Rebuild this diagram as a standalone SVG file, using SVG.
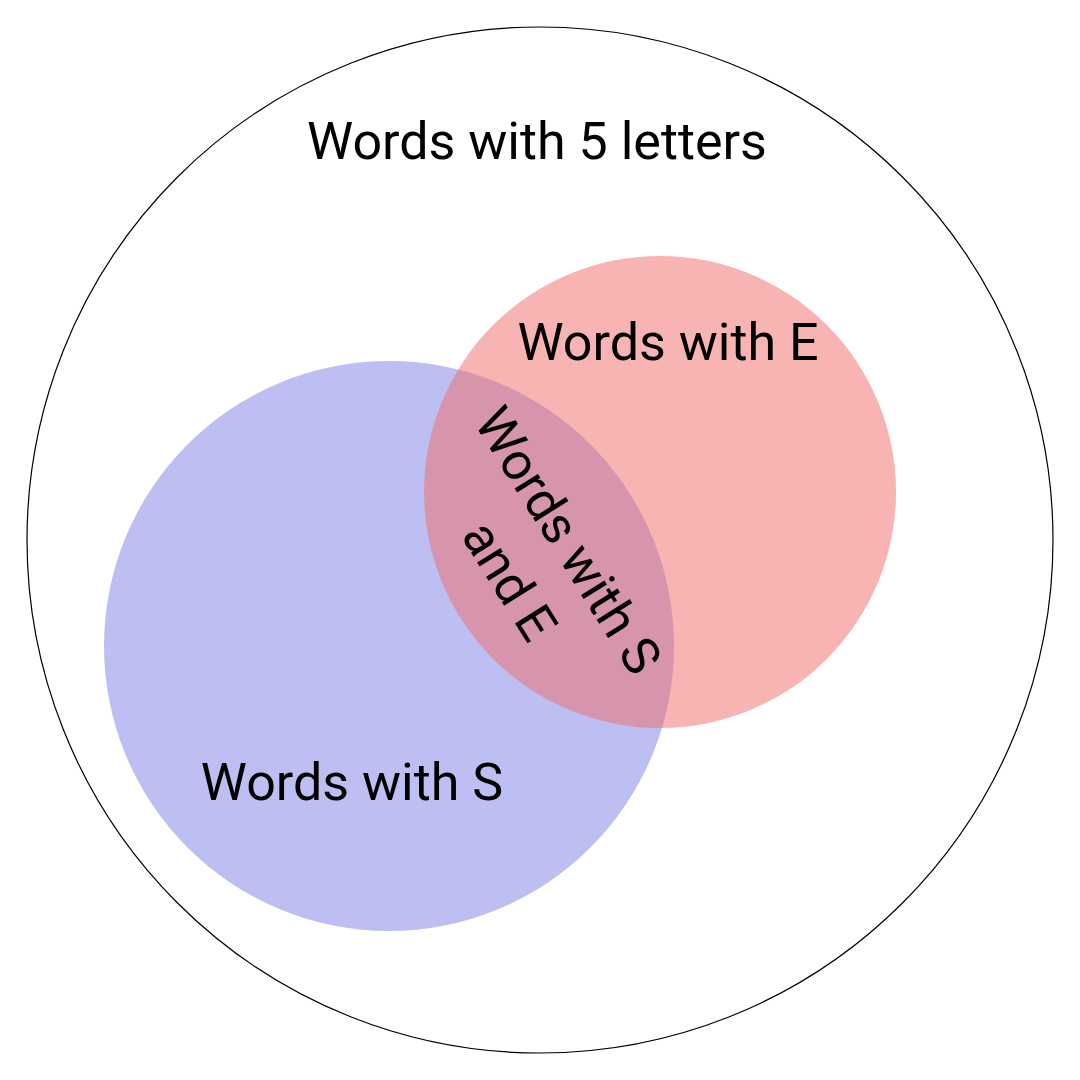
<svg xmlns="http://www.w3.org/2000/svg" width="1080" height="1080" viewBox="0 0 1080 1080">
<style>
text{font-family:Roboto,"Liberation Sans",sans-serif;font-size:52px;fill:#000;text-anchor:middle}
</style>
<rect width="1080" height="1080" fill="#fff"/>
<g id="universe">
<circle cx="540" cy="540" r="513" fill="none" stroke="#000" stroke-width="1.2"/>
<text x="537" y="159">Words with 5 letters</text>
</g>
<g id="setS">
<circle cx="389" cy="646" r="285" fill="#7b80e6" fill-opacity="0.5"/>
<text x="352" y="800">Words with S</text>
</g>
<g id="setE">
<circle cx="660" cy="492" r="236" fill="#f06a68" fill-opacity="0.5"/>
<text x="668" y="360">Words with E</text>
</g>
<g id="intersection" transform="translate(553,550) rotate(58)">
<text x="0" y="0">Words with S</text>
<text x="3" y="71">and E</text>
</g>
</svg>
